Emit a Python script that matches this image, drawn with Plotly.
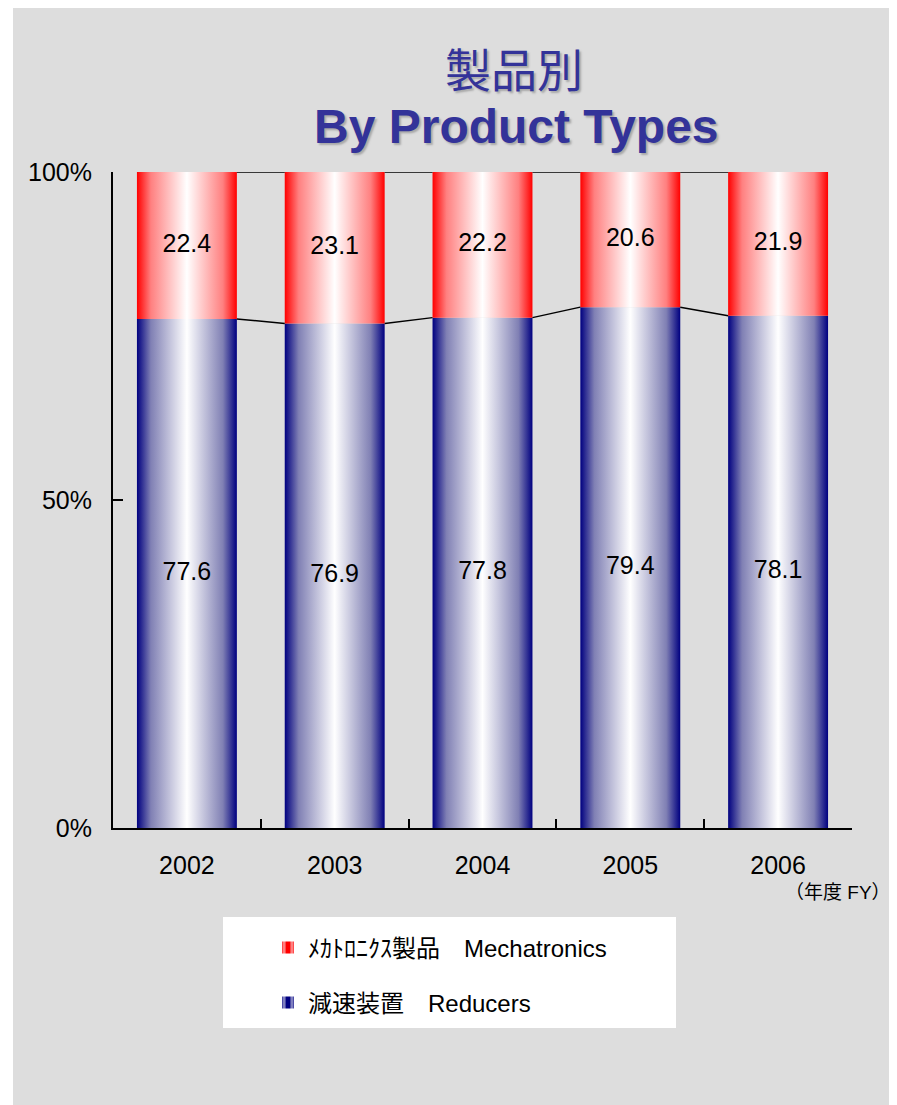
import plotly.graph_objects as go

# ---------------- data ----------------
years = ["2002", "2003", "2004", "2005", "2006"]
reducers = [77.6, 76.9, 77.8, 79.4, 78.1]          # 減速装置 Reducers
mechatronics = [22.4, 23.1, 22.2, 20.6, 21.9]      # ﾒｶﾄﾛﾆｸｽ製品 Mechatronics
y_tick_vals = [0, 50, 100]
y_tick_text = ["0%", "50%", "100%"]
name_mecha = "ﾒｶﾄﾛﾆｸｽ製品\u3000Mechatronics"
name_red = "減速装置\u3000Reducers"
title_jp = "製品別"
title_en = "By Product Types"
unit_label = "（年度 FY）"

# ---------------- style ----------------
FONT = "Liberation Sans, Arial, Noto Sans CJK JP, sans-serif"
TITLE_COLOR = "#333399"
BG_GRAY = "#DDDDDD"
RED = "#FF0000"
NAVY = "#000080"
HALF = 0.338  # half bar width in category units
FS = 25       # main text size

def grad(edge, mid):
    return [[0.0, edge], [0.14, mid], [0.5, "#FFFFFF"], [0.86, mid], [1.0, edge]]

RED_SCALE = grad(RED, "#FF8080")
BLUE_SCALE = grad(NAVY, "#8080B4")

OFF = 8                      # page offset of the figure (body margin)
W, H = 889, 1097
L, T = 113 - OFF, 172 - OFF
R = W - (852 - OFF)
B = H - (828 - OFF)
PW, PH = W - L - R, H - T - B

def px(x_page):
    return (x_page - OFF - L) / PW

def py(y_page):
    return (H - B - (y_page - OFF)) / PH

fig = go.Figure()

# bars drawn as gradient-filled rectangles on a numeric category axis
for i, yr in enumerate(years):
    r = reducers[i]
    m = mechatronics[i]
    xs = [i - HALF, i + HALF, i + HALF, i - HALF, i - HALF]
    fig.add_trace(go.Scatter(
        x=xs, y=[0, 0, r, r, 0], mode="lines", fill="toself",
        line=dict(width=0), fillgradient=dict(type="horizontal", colorscale=BLUE_SCALE),
        name=name_red, legendgroup="red", showlegend=False, hoverinfo="skip"))
    fig.add_trace(go.Scatter(
        x=xs, y=[r, r, r + m, r + m, r], mode="lines", fill="toself",
        line=dict(width=0), fillgradient=dict(type="horizontal", colorscale=RED_SCALE),
        name=name_mecha, legendgroup="mecha", showlegend=False, hoverinfo="skip"))

# legend entries (swatch style only)
fig.add_trace(go.Bar(
    x=[None], y=[None], name=name_mecha, legendgroup="mecha", legend="legend",
    marker=dict(color=RED, line=dict(width=0),
                pattern=dict(shape="|", fgcolor="white", bgcolor=RED, size=12, solidity=0.4))))
fig.add_trace(go.Bar(
    x=[None], y=[None], name=name_red, legendgroup="red", legend="legend2",
    marker=dict(color=NAVY, line=dict(width=0),
                pattern=dict(shape="|", fgcolor="white", bgcolor=NAVY, size=12, solidity=0.4))))

# series lines between bars
lx, ly_red, ly_top = [], [], []
for i in range(len(years) - 1):
    lx += [i + HALF, i + 1 - HALF, None]
    ly_red += [reducers[i], reducers[i + 1], None]
    ly_top += [reducers[i] + mechatronics[i], reducers[i + 1] + mechatronics[i + 1], None]
for ys in (ly_red, ly_top):
    fig.add_trace(go.Scatter(x=lx, y=ys, mode="lines", line=dict(color="black", width=1.5),
                             showlegend=False, hoverinfo="skip"))

# value labels
idx = list(range(len(years)))
fig.add_trace(go.Scatter(
    x=idx, y=[r / 2 for r in reducers], mode="text",
    text=[f"{v:.1f}" for v in reducers], textfont=dict(size=FS, color="black", family=FONT),
    showlegend=False, hoverinfo="skip"))
fig.add_trace(go.Scatter(
    x=idx, y=[r + m / 2 for r, m in zip(reducers, mechatronics)], mode="text",
    text=[f"{v:.1f}" for v in mechatronics], textfont=dict(size=FS, color="black", family=FONT),
    showlegend=False, hoverinfo="skip"))

fig.update_layout(
    width=W, height=H,
    margin=dict(l=L, r=R, t=T, b=B, pad=0),
    paper_bgcolor=BG_GRAY,
    plot_bgcolor="rgba(0,0,0,0)",
    font=dict(family=FONT, size=FS, color="black"),
    barmode="overlay",
    xaxis=dict(
        range=[-0.5, len(years) - 0.5], tickmode="array", tickvals=idx, ticktext=years,
        ticks="inside", ticklen=0, showgrid=False, zeroline=False,
        showline=True, linecolor="black", linewidth=2,
        ticklabelstandoff=14,
        tickfont=dict(size=FS),
        minor=dict(tickmode="linear", tick0=0.5, dtick=1, ticks="inside", ticklen=9,
                   tickwidth=1.5, tickcolor="black", showgrid=False),
        fixedrange=True),
    yaxis=dict(
        range=[0, 100], tickmode="array", tickvals=y_tick_vals, ticktext=y_tick_text,
        ticks="inside", ticklen=10, tickwidth=2, tickcolor="black",
        showgrid=False, zeroline=False, showline=True, linecolor="black", linewidth=2,
        ticklabelstandoff=14, tickfont=dict(size=FS), fixedrange=True),
    legend=dict(x=px(268), y=py(948), xanchor="left", yanchor="middle",
                bgcolor="rgba(0,0,0,0)", font=dict(size=24, family=FONT)),
    legend2=dict(x=px(268), y=py(1003), xanchor="left", yanchor="middle",
                 bgcolor="rgba(0,0,0,0)", font=dict(size=24, family=FONT)),
    shapes=[
        dict(type="rect", xref="paper", yref="paper", x0=px(0), x1=px(13), y0=py(1120), y1=py(0),
             fillcolor="white", line=dict(width=0), layer="below"),
        dict(type="rect", xref="paper", yref="paper", x0=px(223), x1=px(676), y0=py(1028), y1=py(917),
             fillcolor="white", line=dict(width=0), layer="below"),
    ],
    annotations=[
        dict(text=title_jp, xref="paper", yref="paper", x=px(514), y=py(71), xanchor="center",
             yanchor="middle", showarrow=False,
             font=dict(size=46, color=TITLE_COLOR, family=FONT, shadow="2px 2px 2px #A8A8A8")),
        dict(text=f"<b>{title_en}</b>", xref="paper", yref="paper", x=px(516), y=py(126),
             xanchor="center", yanchor="middle", showarrow=False,
             font=dict(size=48, color=TITLE_COLOR, family=FONT, shadow="2px 2px 2px #A8A8A8")),
        dict(text=unit_label, xref="paper", yref="paper", x=px(893), y=py(892), xanchor="right",
             yanchor="middle", showarrow=False, font=dict(size=19, color="black", family=FONT)),
    ],
)

fig.write_html("out.html")
